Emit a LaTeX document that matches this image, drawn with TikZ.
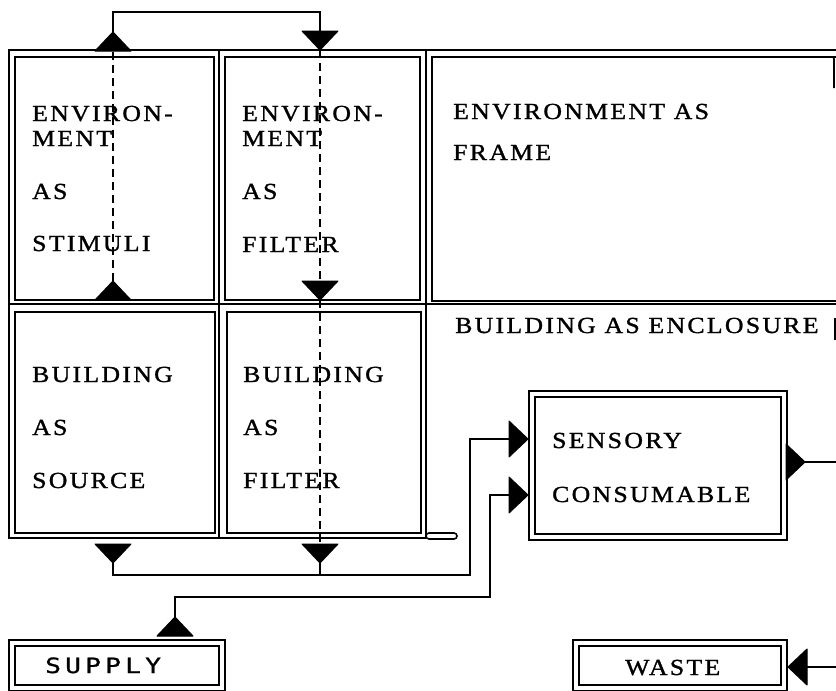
\documentclass[tikz,border=0pt]{standalone}
\usepackage{fontspec}
\setmainfont{Liberation Serif}[FakeStretch=1.12,LetterSpace=10,FakeBold=1.2]
\newfontfamily\typefont{DejaVu Sans Mono}[FakeStretch=1.25,LetterSpace=20,FakeBold=1]

\tikzset{
    frameline/.style={line width=2.6pt},
    cell/.style={line width=1.6pt},
    dblbox/.style={draw, double, double distance=4pt, line width=1.6pt},
    link/.style={line width=1.8pt},
    dashlink/.style={line width=1.6pt, dash pattern=on 8pt off 5pt},
    lbl/.style={anchor=base west, inner sep=0pt, font=\fontsize{23}{27}\selectfont},
    tip/.pic={
        \fill[draw=black, line width=1pt, line join=round] (0,0) -- (18,19) -- (-18,19) -- cycle;
        \coordinate (-apex) at (0,0);
        \coordinate (-base) at (0,19);
    }
}

\begin{document}
\begin{tikzpicture}[x=1pt, y=-1pt]

    \useasboundingbox (0,0) rectangle (836,691);
    \clip (0,0) rectangle (836,691);

    % Outer frame
    \draw[frameline] (840,50) -- (9,50) -- (9,538) -- (426,538);
    \draw[frameline] (9,304) -- (840,304);
    \draw[frameline] (219,50) -- (219,538);
    \draw[frameline] (426,50) -- (426,538);
    \draw[cell, rounded corners=3pt] (426,533) rectangle (457,539);

    % Cells
    \draw[cell] (15,57) rectangle (214,300);
    \draw[cell] (225,57) rectangle (420,300);
    \draw[cell] (840,57) -- (432,57) -- (432,301) -- (840,301);
    \draw[cell, rounded corners=2pt] (826,57) -- (834,57) -- (834,88);
    \draw[cell] (15,312) rectangle (215,533);
    \draw[cell] (227,312) rectangle (421,533);
    \draw[cell] (835,318) -- (835,340);

    % Boxes
    \draw[dblbox] (532,394) rectangle (784,537);
    \draw[dblbox] (12,643) rectangle (222,688);
    \draw[dblbox] (576,643) rectangle (784,688);

    % Labels
    \foreach \t/\y [count=\i] in {ENVIRON-/121, MENT/146, AS/199, STIMULI/251}
        \node[lbl] (stim\i) at (32,\y) {\t};
    \foreach \t/\y [count=\i] in {ENVIRON-/121, MENT/146, AS/199, FILTER/252}
        \node[lbl] (efil\i) at (242,\y) {\t};
    \foreach \t/\y [count=\i] in {ENVIRONMENT AS/119, FRAME/160}
        \node[lbl] (frame\i) at (453,\y) {\t};
    \foreach \t/\y [count=\i] in {BUILDING/382, AS/435, SOURCE/488}
        \node[lbl] (src\i) at (32,\y) {\t};
    \foreach \t/\y [count=\i] in {BUILDING/382, AS/435, FILTER/488}
        \node[lbl] (bfil\i) at (243,\y) {\t};
    \node[lbl] (encl) at (455,333) {BUILDING AS ENCLOSURE};
    \foreach \t/\y [count=\i] in {SENSORY/448, CONSUMABLE/502}
        \node[lbl] (sens\i) at (552,\y) {\t};
    \node[lbl, font=\fontsize{21}{25}\typefont] (supply) at (45,673) {SUPPLY};
    \node[lbl] (waste) at (625,675) {WASTE};

    % Triangles
    \pic (stimOut) at (113,32) {tip};
    \pic (stimIn) at (113,281) {tip};
    \pic[rotate=180] (efilIn) at (320,50) {tip};
    \pic[rotate=180] (efilOut) at (320,300) {tip};
    \pic[rotate=180] (srcOut) at (113,563) {tip};
    \pic[rotate=180] (bfilOut) at (320,563) {tip};
    \pic[rotate=-90] (sensA) at (528,439) {tip};
    \pic[rotate=-90] (sensB) at (528,495) {tip};
    \pic[rotate=-90] (sensOut) at (805,462) {tip};
    \pic (supOut) at (175,617) {tip};
    \pic[rotate=90] (wasteIn) at (788,667) {tip};

    % Connectors
    \coordinate (busA) at (470,575);
    \coordinate (busB) at (490,597);
    \coordinate (exitA) at (840,462);
    \coordinate (exitB) at (840,667);

    \draw[link] (stimOut-apex) -- ++(0,-20) -| (efilIn-base);
    \draw[dashlink] (stimIn-apex) -- (stimOut-base);
    \draw[dashlink] (efilIn-apex) -- (efilOut-base);
    \draw[dashlink] (efilOut-apex) -- (bfilOut-base);
    \draw[link] (srcOut-apex) |- (busA) |- (sensA-base);
    \draw[link] (bfilOut-apex) -- (bfilOut-apex |- busA);
    \draw[link] (supOut-apex) |- (busB) |- (sensB-base);
    \draw[link] (sensOut-apex) -- (exitA);
    \draw[link] (exitB) -- (wasteIn-base);

\end{tikzpicture}
\end{document}
